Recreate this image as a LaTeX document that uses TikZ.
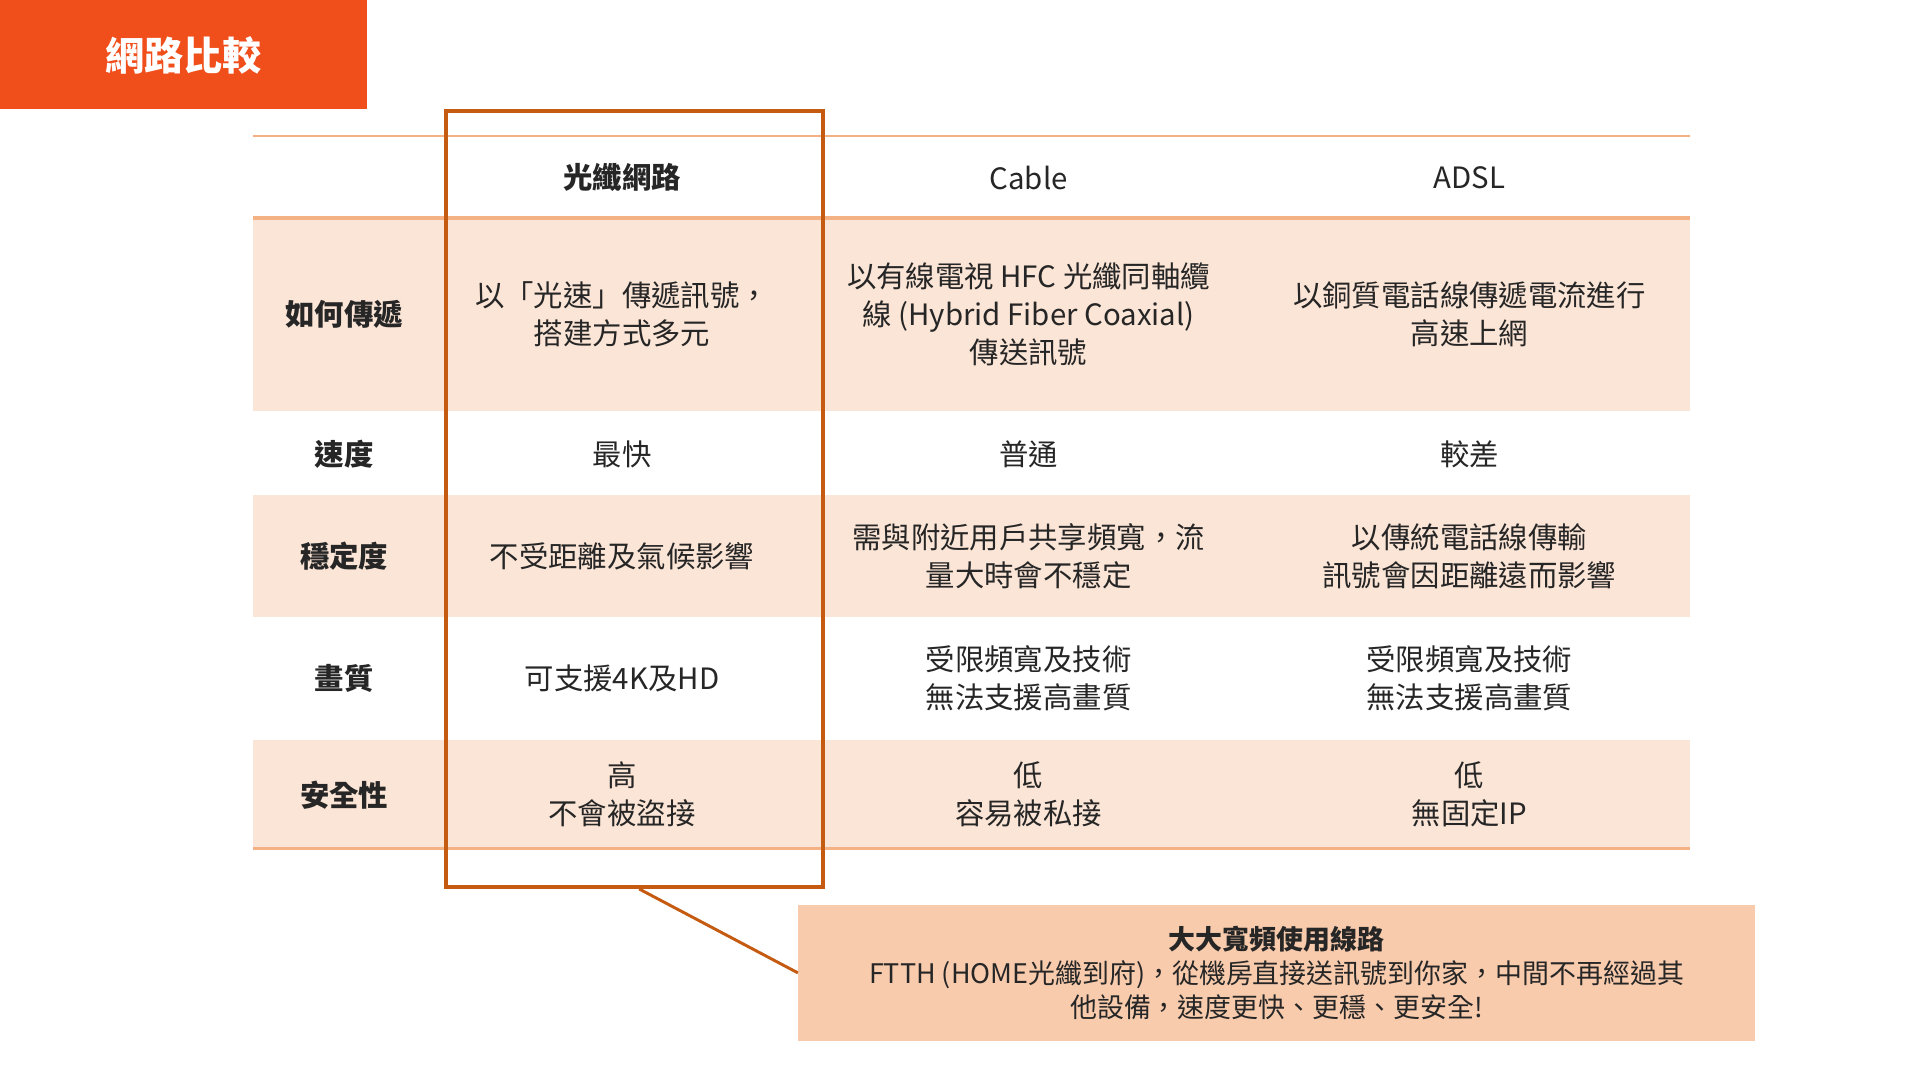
\documentclass[tikz,border=0pt]{standalone}
\usepackage{fontspec}
\setmainfont{Noto Sans CJK TC}
\begin{document}
\begin{tikzpicture}[x=0.5pt,y=-0.5pt,
  cell/.style={align=center,font=\fontsize{12}{15.5}\selectfont,text=black!85, inner sep=0pt},
  lab/.style={cell,font=\fontsize{12}{15.5}\selectfont\bfseries},
  band/.style={fill=orange!50!red!12, draw=none}]
\definecolor{hl}{HTML}{C55A11}
\definecolor{ttl}{HTML}{F04E1A}
\definecolor{ln}{HTML}{F4B183}
\definecolor{bandc}{HTML}{FBE5D6}
\definecolor{callc}{HTML}{F8CBAD}
\useasboundingbox (0,0) rectangle (1568,882);
\fill[white] (0,0) rectangle (1568,882);
% title
\fill[ttl] (0,0) rectangle (300,89);
\node[font=\fontsize{16}{18}\selectfont\bfseries,text=white] (title) at (150,45) {網路比較};
% bands
\fill[bandc] (207,178) rectangle (1380,336);
\fill[bandc] (207,404) rectangle (1380,504);
\fill[bandc] (207,604) rectangle (1380,693);
\draw[ln,line width=1pt] (207,111) -- (1380,111);
\draw[ln,line width=1.5pt] (207,178) -- (1380,178);
\draw[ln,line width=1pt] (207,693) -- (1380,693);
% header
\node[lab] (h1) at (508,145) {光纖網路};
\node[cell] (h2) at (840,145) {Cable};
\node[cell] (h3) at (1200,145) {ADSL};
% labels
\node[lab] (l1) at (281,257) {如何傳遞};
\node[lab] (l2) at (281,371) {速度};
\node[lab] (l3) at (281,454) {穩定度};
\node[lab] (l4) at (281,554) {畫質};
\node[lab] (l5) at (281,649) {安全性};
% row 1
\node[cell] (a1) at (508,257) {以「光速」傳遞訊號，\\搭建方式多元};
\node[cell] (b1) at (840,257) {以有線電視 HFC 光纖同軸纜\\線 (Hybrid Fiber Coaxial)\\傳送訊號};
\node[cell] (c1) at (1200,257) {以銅質電話線傳遞電流進行\\高速上網};
% row 2
\node[cell] (a2) at (508,371) {最快};
\node[cell] (b2) at (840,371) {普通};
\node[cell] (c2) at (1200,371) {較差};
% row 3
\node[cell] (a3) at (508,454) {不受距離及氣候影響};
\node[cell] (b3) at (840,454) {需與附近用戶共享頻寬，流\\量大時會不穩定};
\node[cell] (c3) at (1200,454) {以傳統電話線傳輸\\訊號會因距離遠而影響};
% row 4
\node[cell] (a4) at (508,554) {可支援4K及HD};
\node[cell] (b4) at (840,554) {受限頻寬及技術\\無法支援高畫質};
\node[cell] (c4) at (1200,554) {受限頻寬及技術\\無法支援高畫質};
% row 5
\node[cell] (a5) at (508,649) {高\\不會被盜接};
\node[cell] (b5) at (840,649) {低\\容易被私接};
\node[cell] (c5) at (1200,649) {低\\無固定IP};
% highlight box
\node[draw=hl,line width=1.6pt,minimum width=154pt,minimum height=317pt,inner sep=0pt] (hlbox) at (518,407.5) {};
\coordinate (tail) at (522,726);
% callout
\node[fill=callc,minimum width=390.5pt,minimum height=55.5pt,inner sep=0pt,align=center,
  font=\fontsize{11}{14}\selectfont,text=black!85] (call) at (1042.5,794.5)
  {{\bfseries 大大寬頻使用線路}\\FTTH (HOME光纖到府)，從機房直接送訊號到你家，中間不再經過其\\他設備，速度更快、更穩、更安全!};
\draw[hl,line width=1.2pt] (tail) -- (call.west);
\end{tikzpicture}
\end{document}
